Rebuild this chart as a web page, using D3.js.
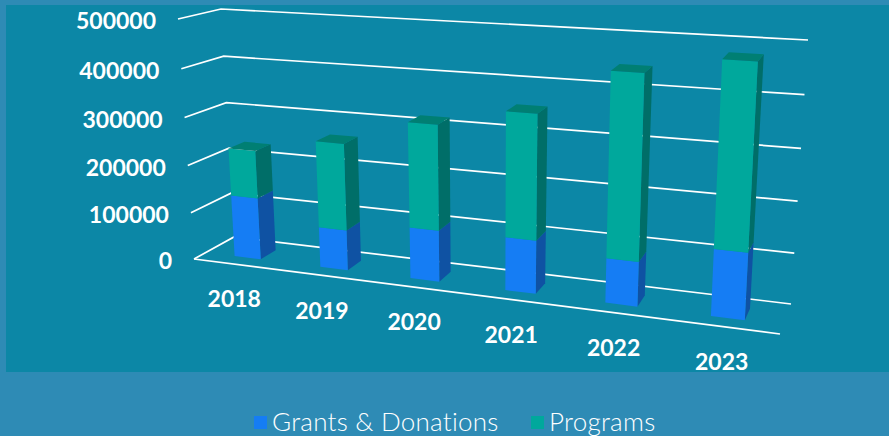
<!DOCTYPE html>
<meta charset="utf-8">
<style>
	html, body { margin: 0; padding: 0; background: #2e8bb5; overflow: hidden; }
	text { font-family: Lato, sans-serif; fill: white; }
</style>
<body>
	<script src="https://d3js.org/d3.v7.min.js"></script>
	<script>
		var years = ["2018","2019","2020","2021","2022","2023"];
		var grants = [131000,84000,105000,107000,88000,129000];
		var programs = [100000,179000,213000,248000,358000,351000];
		var valueTicks = [0,100000,200000,300000,400000,500000];
		var seriesNames = ["Grants & Donations","Programs"];

		var width = 889, height = 436;

		// face colours per series: front, side, top
		var faceColors = {
			"Grants & Donations": {front:"#157df4", side:"#0f52a3", top:"#0f62c0"},
			"Programs": {front:"#00a89c", side:"#006e68", top:"#007f73"}
		};

		// the chart box on screen, [x,y]; name = floor/ceiling, front/back, left/right
		var box = {
			floorFrontLeft:[194,259], floorFrontRight:[780,334],
			floorBackLeft:[234,237], floorBackRight:[791,304],
			topFrontLeft:[178,19], topFrontRight:[795,58],
			topBackLeft:[221,9], topBackRight:[808,40]
		};
		var barDepth = [0.3,0.7];

		var xBand = d3.scaleBand().domain(years).range([0,1]).paddingInner(0.69).paddingOuter(0.345);
		var yValue = d3.scaleLinear().domain([0,500000]).range([0,1]);

		// foreshortening along the width and the height of the box
		function warp(g, t) { return t/(g-(g-1)*t); }

		function project(t, value, w) {
			var s = warp(1.17,t), v = warp(1.045,yValue(value));
			var floorFront = d3.interpolate(box.floorFrontLeft,box.floorFrontRight)(s);
			var floorBack = d3.interpolate(box.floorBackLeft,box.floorBackRight)(s);
			var topFront = d3.interpolate(box.topFrontLeft,box.topFrontRight)(s);
			var topBack = d3.interpolate(box.topBackLeft,box.topBackRight)(s);
			var floor = d3.interpolate(floorFront,floorBack)(w);
			var top = d3.interpolate(topFront,topBack)(w);
			return d3.interpolate(floor,top)(v);
		}

		var svg = d3.select("body").append("svg")
			.attr("width",width)
			.attr("height",height)
			.style("display","block");

		svg.append("rect")
			.attr("x",6).attr("y",5)
			.attr("width",width-6).attr("height",367)
			.attr("fill","#0c87a6");

		// gridlines: side wall then back wall
		var line = d3.line();
		svg.selectAll("path.grid")
			.data(valueTicks)
			.enter()
			.append("path")
			.attr("class","grid")
			.attr("d",function(d) { return line([project(0,d,0),project(0,d,1),project(1,d,1)]); })
			.attr("fill","none")
			.attr("stroke","white")
			.attr("stroke-width",1.7);

		// front edge of the floor
		svg.append("path")
			.attr("d",line([project(0,0,0),project(1,0,0)]))
			.attr("fill","none")
			.attr("stroke","white")
			.attr("stroke-width",1.7);

		// stacked bars
		var rows = years.map(function(y,i) {
			return {year:y, "Grants & Donations":grants[i], "Programs":programs[i]};
		});
		var stacked = d3.stack().keys(seriesNames)(rows);

		function face(points) { return line(points)+"Z"; }

		years.forEach(function(year,i) {
			var t0 = xBand(year), t1 = t0+xBand.bandwidth();
			var d0 = barDepth[0], d1 = barDepth[1];
			stacked.forEach(function(layer,k) {
				var lo = layer[i][0], hi = layer[i][1];
				var colors = faceColors[layer.key];
				var g = svg.append("g").attr("class","bar");
				g.append("path")
					.attr("d",face([project(t1,lo,d0),project(t1,lo,d1),project(t1,hi,d1),project(t1,hi,d0)]))
					.attr("fill",colors.side);
				g.append("path")
					.attr("d",face([project(t0,lo,d0),project(t1,lo,d0),project(t1,hi,d0),project(t0,hi,d0)]))
					.attr("fill",colors.front);
				if (k==stacked.length-1) {
					g.append("path")
						.attr("d",face([project(t0,hi,d0),project(t1,hi,d0),project(t1,hi,d1),project(t0,hi,d1)]))
						.attr("fill",colors.top);
				}
			});
		});

		// value labels
		svg.selectAll("text.value")
			.data(valueTicks)
			.enter()
			.append("text")
			.attr("class","value")
			.text(function(d) { return d; })
			.attr("x",function(d) { return project(0,d,0)[0]-22; })
			.attr("y",function(d) { return project(0,d,0)[1]+10; })
			.attr("text-anchor","end")
			.attr("font-size","23px")
			.attr("font-weight","bold");

		// year labels
		svg.selectAll("text.year")
			.data(years)
			.enter()
			.append("text")
			.attr("class","year")
			.text(function(d) { return d; })
			.attr("x",function(d) { return project(xBand(d)+xBand.bandwidth()/2,0,0)[0]-2; })
			.attr("y",function(d) { return project(xBand(d)+xBand.bandwidth()/2,0,0)[1]+43; })
			.attr("text-anchor","middle")
			.attr("font-size","23px")
			.attr("font-weight","bold");

		// legend
		var legendX = [254,531];
		var legend = svg.selectAll("g.legend")
			.data(seriesNames)
			.enter()
			.append("g")
			.attr("class","legend")
			.attr("transform",function(d,i) { return "translate("+legendX[i]+",416)"; });
		legend.append("rect")
			.attr("width",13).attr("height",13)
			.attr("fill",function(d) { return faceColors[d].front; });
		legend.append("text")
			.text(function(d) { return d; })
			.attr("x",18)
			.attr("y",15)
			.attr("font-size","26px")
			.attr("letter-spacing","0.25px")
			.attr("font-weight","300");
	</script>
</body>
